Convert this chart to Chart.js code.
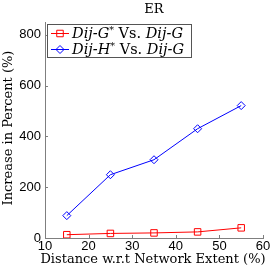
<!DOCTYPE html>
<html><head><meta charset="utf-8">
<script src="https://cdn.jsdelivr.net/npm/chart.js@4"></script>
<style>html,body{margin:0;padding:0;background:#fff}#w{width:274px;height:268px}</style>
</head><body><div id="w"><canvas id="c" width="274" height="268"></canvas></div>
<script>
const distances = [15, 25, 35, 45, 55];
const dijGStar = [13, 18, 20, 24, 40];
const dijHStar = [88, 249, 308, 430, 521];
const xTicks = [10, 20, 30, 40, 50, 60];
const yTicks = [0, 200, 400, 600, 800];
const titleText = 'ER';
const xLabel = 'Distance w.r.t Network Extent (%)';
const yLabel = 'Increase in Percent (%)';
const legendParts = [
  [['i','Dij-G'],['s','*'],['r',' Vs. '],['i','Dij-G']],
  [['i','Dij-H'],['s','*'],['r',' Vs. '],['i','Dij-G']]
];

const SERIF = '"DejaVu Serif", "Liberation Serif", serif';
const axisGray = '#7f7f7f';

const textPlugin = {
  id: 'texts',
  afterDraw(chart) {
    const ctx = chart.ctx;
    const ca = chart.chartArea;
    ctx.save();
    ctx.fillStyle = '#000';
    ctx.font = '13px ' + SERIF;
    ctx.textAlign = 'center';
    ctx.textBaseline = 'middle';
    ctx.fillText(titleText, (ca.left + ca.right) / 2, 10);
    ctx.fillText(xLabel, (ca.left + ca.right) / 2 - 1, 260);
    ctx.save();
    ctx.translate(9, 128);
    ctx.rotate(-Math.PI / 2);
    ctx.fillText(yLabel, 0, 0);
    ctx.restore();

    // inward ticks
    ctx.strokeStyle = axisGray;
    ctx.lineWidth = 1;
    const xs = chart.scales.x, ys = chart.scales.y;
    ctx.beginPath();
    xTicks.forEach(v => {
      const px = Math.round(xs.getPixelForValue(v)) + 0.5;
      ctx.moveTo(px, ca.bottom); ctx.lineTo(px, ca.bottom - 3);
    });
    yTicks.forEach(v => {
      const py = Math.round(ys.getPixelForValue(v)) + 0.5;
      ctx.moveTo(ca.left, py); ctx.lineTo(ca.left + 3, py);
    });
    ctx.stroke();

    // legend
    const bx = 47.5, by = 24.5, bw = 144, bh = 33;
    ctx.fillStyle = '#fff';
    ctx.fillRect(bx, by, bw, bh);
    ctx.strokeStyle = '#555';
    ctx.strokeRect(bx, by, bw, bh);
    const rows = [
      {y: 33, color: '#ff0000', style: 'rect', r: 4.6},
      {y: 49, color: '#0000ff', style: 'rectRot', r: 4}
    ];
    rows.forEach((row, i) => {
      ctx.strokeStyle = row.color;
      ctx.fillStyle = 'rgba(0,0,0,0)';
      ctx.lineWidth = 1;
      ctx.beginPath();
      ctx.moveTo(51, row.y + 0.5); ctx.lineTo(69, row.y + 0.5);
      ctx.stroke();
      Chart.helpers.drawPoint(ctx, {pointStyle: row.style, radius: row.r, borderWidth: 1, rotation: 0}, 60, row.y + 0.5);
      let x = 72;
      ctx.fillStyle = '#000';
      ctx.textAlign = 'left';
      ctx.textBaseline = 'alphabetic';
      const base = row.y + 5;
      legendParts[i].forEach(([kind, txt]) => {
        let f, dy = 0;
        if (kind === 'i') f = 'italic 14.5px ' + SERIF;
        else if (kind === 's') { f = '9.5px ' + SERIF; dy = -5; }
        else f = '14.5px ' + SERIF;
        ctx.font = f;
        ctx.fillText(txt, x, base + dy);
        x += ctx.measureText(txt).width;
      });
    });
    ctx.restore();
  }
};

const toPts = (xs, ys) => xs.map((x, i) => ({x: x, y: ys[i]}));

new Chart(document.getElementById('c'), {
  type: 'line',
  data: {
    datasets: [
      {
        label: 'Dij-G* Vs. Dij-G',
        data: toPts(distances, dijGStar),
        borderColor: '#ff0000',
        backgroundColor: 'transparent',
        borderWidth: 1,
        pointStyle: 'rect',
        pointRadius: 4.6,
        pointBorderWidth: 1,
        pointBackgroundColor: 'transparent',
        pointBorderColor: '#ff0000',
        tension: 0
      },
      {
        label: 'Dij-H* Vs. Dij-G',
        data: toPts(distances, dijHStar),
        borderColor: '#0000ff',
        backgroundColor: 'transparent',
        borderWidth: 1,
        pointStyle: 'rectRot',
        pointRadius: 4,
        pointBorderWidth: 1,
        pointBackgroundColor: 'transparent',
        pointBorderColor: '#0000ff',
        tension: 0
      }
    ]
  },
  options: {
    responsive: false,
    animation: false,
    devicePixelRatio: 1,
    layout: {padding: {top: 22, right: 11, left: 0, bottom: 0}},
    plugins: {legend: {display: false}, tooltip: {enabled: false}},
    scales: {
      x: {
        type: 'linear',
        min: 10, max: 60,
        afterBuildTicks: s => { s.ticks = xTicks.map(v => ({value: v})); },
        afterFit: s => { s.height = 30; },
        grid: {drawOnChartArea: false, drawTicks: false},
        border: {color: axisGray, width: 1},
        ticks: {color: '#000', padding: 1, maxRotation: 0, autoSkip: false,
          font: {family: '"Liberation Sans", Arial, sans-serif', size: 13}}
      },
      y: {
        type: 'linear',
        min: 0, max: 850,
        afterBuildTicks: s => { s.ticks = yTicks.map(v => ({value: v})); },
        afterFit: s => { s.width = 45; },
        grid: {drawOnChartArea: false, drawTicks: false},
        border: {color: axisGray, width: 1},
        ticks: {color: '#000', padding: 4, autoSkip: false,
          font: {family: '"Liberation Sans", Arial, sans-serif', size: 13}}
      }
    }
  },
  plugins: [textPlugin]
});
</script>
</body></html>
